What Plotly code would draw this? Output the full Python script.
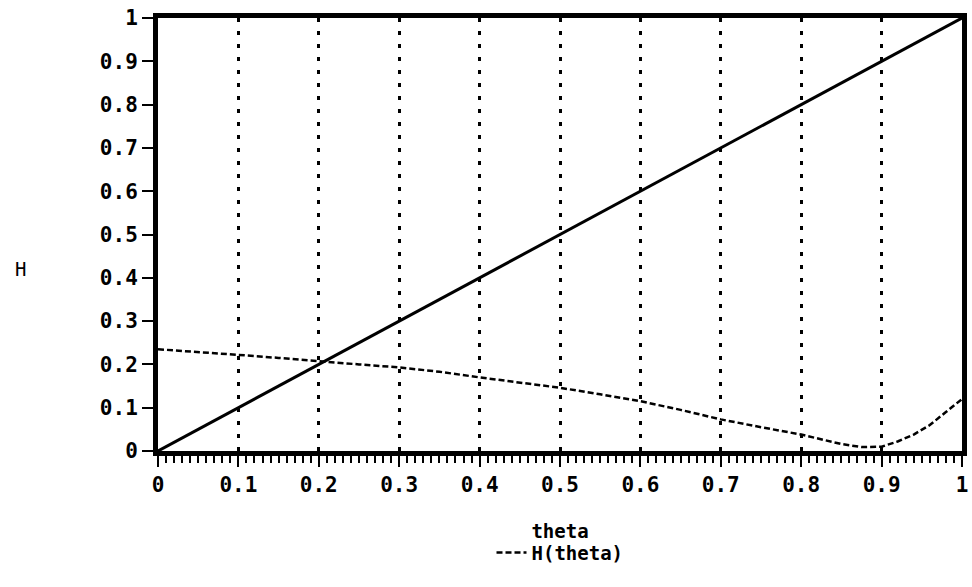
import plotly.graph_objects as go

# Data
theta = [0, 0.05, 0.1, 0.15, 0.2, 0.25, 0.3, 0.35, 0.4, 0.45, 0.5, 0.55, 0.6,
         0.65, 0.7, 0.75, 0.8, 0.85, 0.875, 0.9, 0.92, 0.94, 0.96, 0.98, 1.0]
h_theta = [0.235, 0.229, 0.222, 0.215, 0.207, 0.200, 0.193, 0.183, 0.170, 0.158,
           0.146, 0.131, 0.115, 0.095, 0.073, 0.055, 0.038, 0.016, 0.009, 0.010,
           0.022, 0.038, 0.060, 0.090, 0.120]
diag_x = [0, 1]
diag_y = [0, 1]
tick_vals = [0, 0.1, 0.2, 0.3, 0.4, 0.5, 0.6, 0.7, 0.8, 0.9, 1]
tick_text = ["0", "0.1", "0.2", "0.3", "0.4", "0.5", "0.6", "0.7", "0.8", "0.9", "1"]

FONT = "DejaVu Sans Mono"

fig = go.Figure()
fig.add_trace(go.Scatter(x=diag_x, y=diag_y, mode="lines",
                         line=dict(color="black", width=3),
                         showlegend=False, name="theta"))
fig.add_trace(go.Scatter(x=theta, y=h_theta, mode="lines",
                         line=dict(color="black", width=2.5, dash="6px,3px"),
                         name="H(theta)"))

axis_common = dict(
    range=[0, 1],
    tickvals=tick_vals,
    ticktext=tick_text,
    showline=True, linecolor="black", linewidth=5, mirror=True,
    ticks="outside", tickcolor="black", tickwidth=2, ticklen=11,
    zeroline=False,
    tickfont=dict(family=FONT, size=21, color="black", weight="bold"),
)

fig.update_layout(
    width=972, height=587,
    margin=dict(l=158, r=5, t=18, b=136),
    paper_bgcolor="white", plot_bgcolor="white",
    font=dict(family=FONT, color="black"),
    xaxis=dict(
        **axis_common,
        showgrid=True, gridcolor="black", gridwidth=3, griddash="4px,9px",
        minor=dict(dtick=0.01, ticks="outside", ticklen=7, tickwidth=2,
                   tickcolor="black", showgrid=False),
        title=dict(text="theta", standoff=30,
                   font=dict(family=FONT, size=19, color="black", weight="bold")),
    ),
    yaxis=dict(**axis_common, showgrid=False),
    showlegend=True,
    legend=dict(orientation="h", x=0.5, xanchor="center", y=-0.235, yanchor="middle",
                font=dict(family=FONT, size=19, color="black", weight="bold"),
                itemwidth=30, bgcolor="rgba(0,0,0,0)"),
    annotations=[dict(text="H", xref="paper", yref="paper", x=-0.18, y=0.42,
                      showarrow=False,
                      font=dict(family=FONT, size=19, color="black"))],
)

fig.write_html("out.html")
